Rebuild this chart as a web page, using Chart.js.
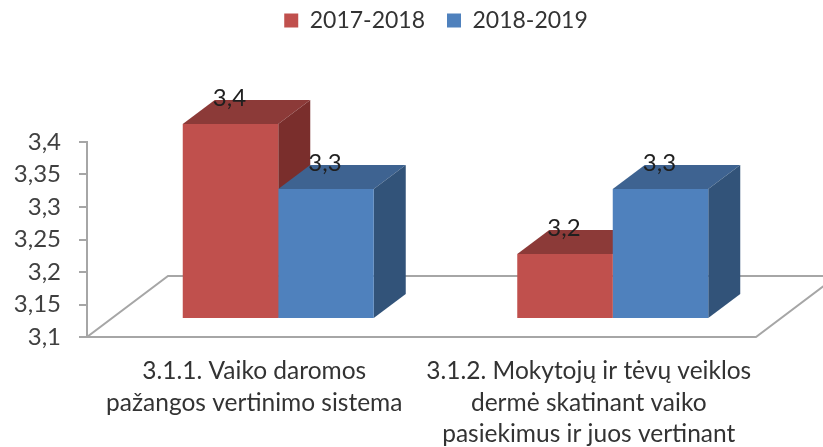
<!DOCTYPE html>
<html>
<head>
<meta charset="utf-8">
<style>html,body{margin:0;padding:0;background:#fff}#w{width:823px;height:447px;position:relative}</style>
<script src="https://cdn.jsdelivr.net/npm/chart.js@4"></script>
</head>
<body>
<div id="w"><canvas id="c" width="823" height="447"></canvas></div>
<script>
const categories = [
  ["3.1.1. Vaiko daromos", "pažangos vertinimo sistema"],
  ["3.1.2. Mokytojų ir tėvų veiklos", "dermė skatinant vaiko", "pasiekimus ir juos vertinant"]
];
const seriesNames = ["2017-2018", "2018-2019"];
const values2017 = [3.4, 3.2];
const values2018 = [3.3, 3.3];
const axisMin = 3.1, axisMax = 3.4, axisStep = 0.05;

const FONT = "Lato, Carlito, sans-serif";
const shiftX = 24, shiftY = -18, depthX = 32, depthY = -24;
const faces = [
  {front:"#C0504D", top:"#8C3A38", side:"#7A2E2C"},
  {front:"#4F81BD", top:"#3E6391", side:"#325379"}
];
const comma = v => String(+(+v).toFixed(2)).replace(".", ",");

const threeD = {
  id: "threeD",
  afterLayout(chart) {
    const lg = chart.legend;
    lg.top = -13;
    lg.left += 58;
    lg.right += 58;
  },
  beforeDatasetsDraw(chart) {
    const {ctx, chartArea:a} = chart;
    const backY = a.bottom - 61, backL = a.left + 81;
    ctx.save();
    ctx.strokeStyle = "#A6A6A6";
    ctx.lineWidth = 2;
    ctx.beginPath();
    ctx.moveTo(a.left, a.bottom);
    ctx.lineTo(a.right, a.bottom);
    ctx.lineTo(a.right + 81, backY);
    ctx.lineTo(backL, backY);
    ctx.closePath();
    ctx.stroke();
    // depth faces, left series first so the right series lies over it
    ctx.translate(shiftX, shiftY);
    chart.data.datasets.forEach((ds, i) => {
      const f = faces[i];
      chart.getDatasetMeta(i).data.forEach(bar => {
        const l = bar.x - bar.width / 2, r = bar.x + bar.width / 2, t = bar.y, b = bar.base;
        ctx.fillStyle = f.top;
        ctx.beginPath();
        ctx.moveTo(l, t); ctx.lineTo(l + depthX, t + depthY);
        ctx.lineTo(r + depthX, t + depthY); ctx.lineTo(r, t);
        ctx.closePath(); ctx.fill();
        ctx.fillStyle = f.side;
        ctx.beginPath();
        ctx.moveTo(r, t); ctx.lineTo(r + depthX, t + depthY);
        ctx.lineTo(r + depthX, b + depthY); ctx.lineTo(r, b);
        ctx.closePath(); ctx.fill();
      });
    });
    ctx.restore();
  },
  beforeDatasetDraw(chart) {
    chart.ctx.save();
    chart.ctx.translate(shiftX, shiftY);
  },
  afterDatasetDraw(chart) { chart.ctx.restore(); },
  afterDatasetsDraw(chart) {
    const {ctx} = chart;
    ctx.save();
    ctx.font = "24px " + FONT;
    ctx.fillStyle = "#1f1f1f";
    ctx.textAlign = "center";
    ctx.textBaseline = "middle";
    chart.data.datasets.forEach((ds, i) => {
      chart.getDatasetMeta(i).data.forEach((bar, j) => {
        ctx.fillText(comma(ds.data[j]), bar.x + shiftX - 1, bar.y + shiftY - 26);
      });
    });
    ctx.restore();
  }
};

new Chart(document.getElementById("c"), {
  type: "bar",
  data: {
    labels: categories,
    datasets: [
      {label: seriesNames[0], data: values2017, base: axisMin, backgroundColor: faces[0].front, clip: false,
       categoryPercentage: 0.571, barPercentage: 1},
      {label: seriesNames[1], data: values2018, base: axisMin, backgroundColor: faces[1].front, clip: false,
       categoryPercentage: 0.571, barPercentage: 1}
    ]
  },
  options: {
    responsive: false,
    animation: false,
    layout: {padding: {left: 0, right: 67, top: 87, bottom: 0}},
    plugins: {
      tooltip: {enabled: false},
      legend: {
        position: "top",
        labels: {
          boxWidth: 14, boxHeight: 14, padding: 22,
          color: "#333333",
          font: {family: FONT, size: 23}
        }
      }
    },
    scales: {
      x: {
        border: {display: false},
        grid: {display: false},
        afterFit(s) { s.height = 110; },
        ticks: {
          color: "#333333", maxRotation: 0, autoSkip: false, padding: 11,
          font: {family: FONT, size: 24.5, lineHeight: 1.27}
        }
      },
      y: {
        min: axisMin, max: axisMax,
        afterFit(s) { s.width = 87; },
        border: {display: true, color: "#A6A6A6", width: 2},
        grid: {drawOnChartArea: false, drawTicks: true, tickLength: 8, color: "#A6A6A6", lineWidth: 2},
        ticks: {
          stepSize: axisStep, color: "#404040", padding: 18,
          font: {family: FONT, size: 24},
          callback: v => comma(v)
        }
      }
    }
  },
  plugins: [threeD]
});
</script>
</body>
</html>
